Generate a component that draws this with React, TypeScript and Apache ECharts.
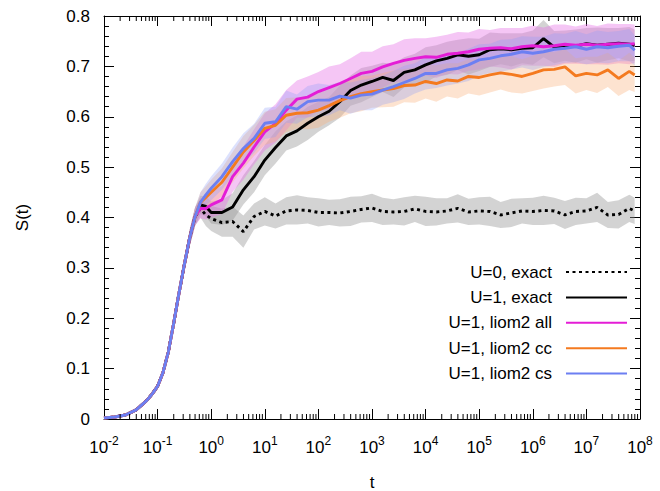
import React, { useEffect, useRef } from "react";
import * as echarts from "echarts";

// log10(t) grid: shared rise region, then the region where curves split
const LOG_RISE = [-2, -1.8, -1.6, -1.4, -1.2, -1.1, -1, -0.9, -0.8, -0.7, -0.6, -0.5, -0.4, -0.3];
const LOG_TAIL = [
  -0.2, -0.1, 0, 0.2, 0.4, 0.6, 0.8, 1.0, 1.2, 1.4,
  1.6, 1.8, 2.0, 2.2, 2.4, 2.6, 2.8, 3.0, 3.2, 3.4,
  3.6, 3.8, 4.0, 4.2, 4.4, 4.6, 4.8, 5.0, 5.2, 5.4,
  5.6, 5.8, 6.0, 6.2, 6.4, 6.6, 6.8, 7.0, 7.2, 7.4,
  7.6, 7.8, 7.9,
];

// shared S(t) values over the rise region
const RISE_S = [0.002, 0.004, 0.008, 0.018, 0.037, 0.05, 0.065, 0.092, 0.133, 0.19, 0.25, 0.307, 0.36, 0.402];
const RISE_BAND = [0.001, 0.001, 0.002, 0.003, 0.004, 0.005, 0.006, 0.007, 0.008, 0.01, 0.012, 0.014, 0.016, 0.018];

const U0_EXACT = [
  0.418, 0.405, 0.398, 0.390, 0.392, 0.372, 0.402, 0.412, 0.403, 0.413,
  0.415, 0.414, 0.410, 0.410, 0.409, 0.412, 0.416, 0.419, 0.412, 0.411,
  0.412, 0.417, 0.412, 0.411, 0.413, 0.418, 0.411, 0.413, 0.412, 0.405,
  0.409, 0.413, 0.412, 0.414, 0.413, 0.405, 0.412, 0.413, 0.420, 0.405,
  0.406, 0.418, 0.413,
];
const U1_EXACT = [
  0.425, 0.422, 0.410, 0.410, 0.421, 0.455, 0.481, 0.514, 0.539, 0.562,
  0.572, 0.587, 0.600, 0.611, 0.630, 0.652, 0.663, 0.670, 0.678, 0.672,
  0.688, 0.693, 0.703, 0.711, 0.716, 0.723, 0.720, 0.723, 0.733, 0.735,
  0.733, 0.736, 0.737, 0.755, 0.738, 0.741, 0.740, 0.745, 0.742, 0.744,
  0.746, 0.744, 0.742,
];
const U1_ALL = [
  0.418, 0.418, 0.425, 0.435, 0.481, 0.508, 0.540, 0.570, 0.587, 0.613,
  0.635, 0.639, 0.650, 0.658, 0.666, 0.676, 0.686, 0.690, 0.699, 0.706,
  0.712, 0.716, 0.719, 0.718, 0.724, 0.726, 0.729, 0.734, 0.736, 0.737,
  0.735, 0.739, 0.741, 0.739, 0.741, 0.744, 0.742, 0.744, 0.742, 0.744,
  0.745, 0.744, 0.745,
];
const U1_CC = [
  0.430, 0.440, 0.450, 0.470, 0.500, 0.530, 0.553, 0.577, 0.583, 0.603,
  0.607, 0.608, 0.613, 0.622, 0.632, 0.640, 0.646, 0.650, 0.653, 0.656,
  0.662, 0.663, 0.670, 0.666, 0.673, 0.671, 0.680, 0.678, 0.683, 0.687,
  0.684, 0.680, 0.686, 0.693, 0.694, 0.699, 0.681, 0.686, 0.683, 0.693,
  0.676, 0.690, 0.683,
];
const U1_CS = [
  0.430, 0.445, 0.458, 0.481, 0.511, 0.537, 0.557, 0.587, 0.590, 0.620,
  0.615, 0.630, 0.633, 0.633, 0.641, 0.637, 0.643, 0.645, 0.653, 0.660,
  0.668, 0.676, 0.686, 0.686, 0.693, 0.696, 0.703, 0.713, 0.716, 0.721,
  0.724, 0.729, 0.726, 0.729, 0.734, 0.736, 0.739, 0.734, 0.739, 0.737,
  0.740, 0.742, 0.732,
];

// half-widths of the shaded uncertainty bands
const U0_EXACT_BAND = [
  0.018, 0.022, 0.025, 0.028, 0.030, 0.032, 0.026, 0.028, 0.025, 0.027,
  0.029, 0.026, 0.028, 0.025, 0.027, 0.029, 0.026, 0.028, 0.027, 0.025,
  0.028, 0.026, 0.029, 0.027, 0.025, 0.028, 0.026, 0.027, 0.029, 0.026,
  0.028, 0.025, 0.027, 0.029, 0.026, 0.028, 0.027, 0.025, 0.029, 0.026,
  0.028, 0.027, 0.026,
];
const U1_EXACT_BAND = [
  0.018, 0.020, 0.022, 0.025, 0.027, 0.029, 0.031, 0.030, 0.032, 0.029,
  0.031, 0.033, 0.030, 0.028, 0.032, 0.030, 0.034, 0.031, 0.029, 0.033,
  0.030, 0.032, 0.035, 0.031, 0.033, 0.030, 0.036, 0.032, 0.034, 0.031,
  0.033, 0.030, 0.034, 0.037, 0.032, 0.030, 0.033, 0.031, 0.035, 0.032,
  0.030, 0.034, 0.031,
];
const U1_ALL_BAND = [
  0.020, 0.022, 0.025, 0.028, 0.030, 0.033, 0.035, 0.037, 0.038, 0.040,
  0.037, 0.041, 0.039, 0.042, 0.038, 0.040, 0.043, 0.039, 0.041, 0.038,
  0.042, 0.040, 0.037, 0.041, 0.039, 0.042, 0.038, 0.040, 0.036, 0.039,
  0.041, 0.037, 0.040, 0.038, 0.042, 0.039, 0.037, 0.040, 0.038, 0.041,
  0.039, 0.040, 0.038,
];
const U1_CC_BAND = [
  0.020, 0.022, 0.025, 0.028, 0.030, 0.032, 0.031, 0.033, 0.032, 0.034,
  0.031, 0.033, 0.035, 0.032, 0.034, 0.033, 0.035, 0.032, 0.034, 0.036,
  0.033, 0.035, 0.034, 0.036, 0.033, 0.035, 0.034, 0.036, 0.035, 0.033,
  0.036, 0.034, 0.035, 0.037, 0.034, 0.036, 0.035, 0.033, 0.036, 0.034,
  0.035, 0.037, 0.034,
];
const U1_CS_BAND = [
  0.020, 0.022, 0.024, 0.026, 0.028, 0.030, 0.029, 0.031, 0.030, 0.032,
  0.029, 0.031, 0.033, 0.030, 0.028, 0.031, 0.030, 0.032, 0.029, 0.031,
  0.033, 0.030, 0.032, 0.029, 0.031, 0.030, 0.032, 0.031, 0.029, 0.032,
  0.030, 0.031, 0.033, 0.030, 0.032, 0.029, 0.031, 0.030, 0.032, 0.031,
  0.030, 0.032, 0.030,
];

const X_DECADES = [-2, -1, 0, 1, 2, 3, 4, 5, 6, 7];
const MINOR_MULTIPLIERS = [2, 3, 4, 5, 6, 7, 8, 9];
const Y_TICK_LABELS = ["0", "0.1", "0.2", "0.3", "0.4", "0.5", "0.6", "0.7", "0.8"];

const FONT = "'Liberation Sans', Arial, Helvetica, sans-serif";

const SERIES_DEFS = [
  { name: "U=0, exact", values: U0_EXACT, band: U0_EXACT_BAND, color: "#000000", fill: "rgba(150,150,150,0.42)", dash: [3, 3.5] as any },
  { name: "U=1, exact", values: U1_EXACT, band: U1_EXACT_BAND, color: "#000000", fill: "rgba(150,150,150,0.42)", dash: "solid" as any },
  { name: "U=1, liom2 all", values: U1_ALL, band: U1_ALL_BAND, color: "#e41dd6", fill: "rgba(232,120,232,0.42)", dash: "solid" as any },
  { name: "U=1, liom2 cc", values: U1_CC, band: U1_CC_BAND, color: "#f47a1f", fill: "rgba(250,175,120,0.35)", dash: "solid" as any },
  { name: "U=1, liom2 cs", values: U1_CS, band: U1_CS_BAND, color: "#6c7ff2", fill: "rgba(140,155,250,0.30)", dash: "solid" as any },
];

export default function App() {
  const ref = useRef<HTMLDivElement>(null);

  useEffect(() => {
    if (!ref.current) return;
    const chart = echarts.init(ref.current, undefined, { renderer: "svg" });
    const logT = [...LOG_RISE, ...LOG_TAIL];

    const series: any[] = [];
    SERIES_DEFS.forEach((d, k) => {
      const vals = [...RISE_S, ...d.values];
      const half = [...RISE_BAND, ...d.band];
      const bandData = logT.map((x, i) => [x, vals[i] - half[i], vals[i] + half[i]]);
      series.push({
        type: "custom",
        name: "band" + k,
        silent: true,
        xAxisIndex: 0,
        yAxisIndex: 0,
        data: bandData,
        encode: { x: 0, y: [1, 2] },
        renderItem: (params: any, api: any) => {
          if (params.dataIndex !== 0) return null;
          const upper = bandData.map((p) => api.coord([p[0], p[2]]));
          const lower = bandData.map((p) => api.coord([p[0], p[1]])).reverse();
          return {
            type: "polygon",
            shape: { points: upper.concat(lower) },
            style: { fill: d.fill, stroke: "none" },
          };
        },
      });
      series.push({
        type: "line",
        name: d.name,
        data: logT.map((x, i) => [x, vals[i]]),
        symbol: "none",
        lineStyle: { color: d.color, width: 2.9, type: d.dash, cap: "butt" },
        itemStyle: { color: d.color },
        xAxisIndex: 0,
        yAxisIndex: 0,
      });
    });

    const minorTicks: number[][] = [];
    X_DECADES.forEach((n) => MINOR_MULTIPLIERS.forEach((m) => minorTicks.push([n + Math.log10(m), 0])));

    series.push({
      type: "custom",
      name: "minor-ticks",
      silent: true,
      clip: false,
      z: 10,
      xAxisIndex: 0,
      yAxisIndex: 0,
      data: minorTicks,
      encode: { x: 0, y: 1 },
      renderItem: (params: any, api: any) => {
        const v = api.value(0);
        const pb = api.coord([v, 0]);
        const pt = api.coord([v, 0.8]);
        const st = { stroke: "#000", lineWidth: 1 };
        return {
          type: "group",
          children: [
            { type: "line", shape: { x1: pb[0], y1: pb[1], x2: pb[0], y2: pb[1] - 5 }, style: st },
            { type: "line", shape: { x1: pt[0], y1: pt[1], x2: pt[0], y2: pt[1] + 5 }, style: st },
          ],
        };
      },
    });

    const axisLine = { show: true, onZero: false, lineStyle: { color: "#000", width: 1 } };
    const xLabelRich = {
      b: { fontSize: 17, lineHeight: 24, fontFamily: FONT, color: "#000" },
      s: { fontSize: 12, lineHeight: 12, verticalAlign: "top", fontFamily: FONT, color: "#000" },
    };

    chart.setOption({
      animation: false,
      textStyle: { fontFamily: FONT },
      grid: { left: 104, right: 20, top: 16, bottom: 72, outerBoundsMode: "none", containLabel: false },
      legend: {
        data: SERIES_DEFS.map((d) => d.name),
        orient: "vertical",
        align: "right",
        right: 32,
        top: 263,
        padding: 0,
        itemWidth: 61,
        itemHeight: 14,
        itemGap: 7.4,
        selectedMode: false,
        itemStyle: { color: "transparent", borderWidth: 0, opacity: 0 },
        textStyle: { fontSize: 17, lineHeight: 18, color: "#000", fontFamily: FONT, padding: [0, 9, 0, 0] },
      },
      xAxis: [
        {
          type: "value",
          min: -2,
          max: 8,
          interval: 1,
          position: "bottom",
          axisLine,
          axisTick: { show: true, inside: true, length: 10, lineStyle: { color: "#000" } },
          minorTick: { show: false },
          splitLine: { show: false },
          axisLabel: {
            margin: 16,
            formatter: (v: number) => `{b|10}{s|${Math.round(v)}}`,
            rich: xLabelRich,
          },
          name: "t",
          nameLocation: "middle",
          nameGap: 55,
          nameTextStyle: { fontSize: 17, lineHeight: 17, color: "#000", fontFamily: FONT },
        },
        {
          type: "value",
          min: -2,
          max: 8,
          interval: 1,
          position: "top",
          axisLine,
          axisTick: { show: true, inside: true, length: 10, lineStyle: { color: "#000" } },
          splitLine: { show: false },
          axisLabel: { show: false },
        },
      ],
      yAxis: [
        {
          type: "value",
          min: 0,
          max: 0.8,
          interval: 0.1,
          position: "left",
          axisLine,
          axisTick: { show: true, inside: true, length: 10, lineStyle: { color: "#000" } },
          minorTick: { show: true, splitNumber: 5, length: 5, lineStyle: { color: "#000" } },
          splitLine: { show: false },
          axisLabel: {
            margin: 14,
            fontSize: 17,
            color: "#000",
            fontFamily: FONT,
            formatter: (v: number) => Y_TICK_LABELS[Math.round(v * 10)] ?? String(v),
          },
          name: "S(t)",
          nameLocation: "middle",
          nameGap: 73,
          nameTextStyle: { fontSize: 17, color: "#000", fontFamily: FONT },
        },
        {
          type: "value",
          min: 0,
          max: 0.8,
          interval: 0.1,
          position: "right",
          axisLine,
          axisTick: { show: true, inside: true, length: 10, lineStyle: { color: "#000" } },
          minorTick: { show: true, splitNumber: 5, length: 5, lineStyle: { color: "#000" } },
          splitLine: { show: false },
          axisLabel: { show: false },
        },
      ],
      series,
    });

    return () => chart.dispose();
  }, []);

  return (
    <div
      ref={ref}
      style={{ position: "absolute", left: 0, top: 0, width: 660, height: 491, background: "#fff" }}
    />
  );
}
